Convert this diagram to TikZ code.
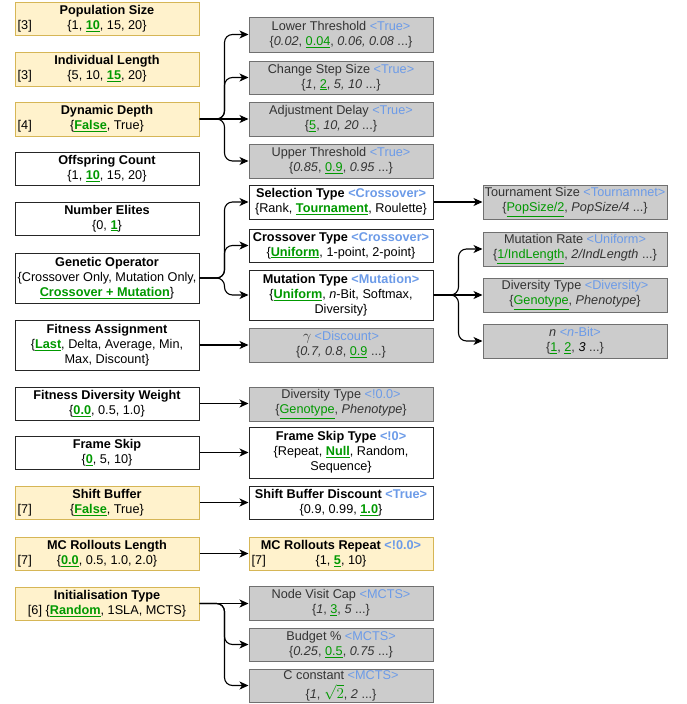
\documentclass[tikz,border=0pt]{standalone}
\usepackage{graphicx}
\usepackage{fontspec}
\setmainfont{Liberation Sans}
\usetikzlibrary{arrows.meta}
\definecolor{yfill}{HTML}{FFF2CC}
\definecolor{ydraw}{HTML}{D6B656}
\definecolor{gfill}{HTML}{CCCCCC}
\definecolor{gdraw}{HTML}{707070}
\definecolor{gtext}{HTML}{333333}
\definecolor{tagblue}{HTML}{6C9BE8}
\definecolor{grn}{HTML}{009900}
\newcommand\gb[1]{\textcolor{grn}{\underline{\textbf{#1}}}}
\newcommand\gu[1]{\textcolor{grn}{\underline{#1}}}
\newcommand\tg[1]{\textcolor{tagblue}{#1}}
\newcommand\bx[7]{\node[#6, minimum width={(#4-#2)*1pt}, minimum height={(#5-#3)*1pt}] (#1) at ({(#2+#4)/2},{(#3+#5)/2}) {#7};}
\newcommand\tagat[2]{\node[tagtxt] (#1tag) at ([xshift=3pt,yshift=-7.5pt]#1.west) {#2};}
\tikzset{
  base/.style={draw, line width=1pt, inner sep=0pt, align=center, font=\fontsize{12.7}{15}\selectfont},
  ybox/.style={base, fill=yfill, draw=ydraw},
  wbox/.style={base, fill=white, draw=black!85},
  gbox/.style={base, fill=gfill, draw=gdraw, text=gtext},
  tagtxt/.style={anchor=west, inner sep=0pt, font=\fontsize{12.7}{15}\selectfont},
  conn/.style={line width=1.1pt, -{Stealth[length=9pt,width=8pt,inset=2.5pt]}},
  bus/.style={conn, rounded corners=8pt}
}
\begin{document}
\begin{tikzpicture}[x=1pt,y=-1pt]
\useasboundingbox (0,0) rectangle (686,704);
% left column
\bx{pop}{15}{2}{199}{35}{ybox}{\textbf{Population Size}\\\{1, \gb{10}, 15, 20\}}
\tagat{pop}{[3]}
\bx{ind}{15}{52}{199}{86}{ybox}{\textbf{Individual Length}\\\{5, 10, \gb{15}, 20\}}
\tagat{ind}{[3]}
\bx{dd}{15}{102}{199}{136}{ybox}{\textbf{Dynamic Depth}\\\{\gb{False}, True\}}
\tagat{dd}{[4]}
\bx{off}{15}{152}{199}{185}{wbox}{\textbf{Offspring Count}\\\{1, \gb{10}, 15, 20\}}
\bx{elite}{15}{202}{199}{235}{wbox}{\textbf{Number Elites}\\\{0, \gb{1}\}}
\bx{gen}{15}{253}{199}{303}{wbox}{\textbf{Genetic Operator}\\\{Crossover Only, Mutation Only,\\\gb{Crossover + Mutation}\}}
\bx{fit}{15}{320}{199}{370}{wbox}{\textbf{Fitness Assignment}\\\{\gb{Last}, Delta, Average, Min,\\Max, Discount\}}
\bx{fdw}{15}{387}{199}{420}{wbox}{\textbf{Fitness Diversity Weight}\\\{\gb{0.0}, 0.5, 1.0\}}
\bx{fs}{15}{436}{199}{469}{wbox}{\textbf{Frame Skip}\\\{\gb{0}, 5, 10\}}
\bx{sb}{15}{486}{199}{519}{ybox}{\textbf{Shift Buffer}\\\{\gb{False}, True\}}
\tagat{sb}{[7]}
\bx{mcl}{15}{537}{199}{570}{ybox}{\textbf{MC Rollouts Length}\\\{\gb{0.0}, 0.5, 1.0, 2.0\}}
\tagat{mcl}{[7]}
\bx{init}{15}{587}{199}{620}{ybox}{\textbf{Initialisation Type}\\{[6]} \{\gb{Random}, 1SLA, MCTS\}}
% middle column
\bx{lt}{249}{17}{433}{52}{gbox}{Lower Threshold \tg{<True>}\\\{\textit{0.02}, \gu{0.04}, \textit{0.06, 0.08} ...\}}
\bx{css}{249}{61}{433}{94}{gbox}{Change Step Size \tg{<True>}\\\{\textit{1}, \gu{2}, \textit{5, 10} ...\}}
\bx{ad}{249}{102}{433}{136}{gbox}{Adjustment Delay \tg{<True>}\\\{\gu{5}, \textit{10, 20} ...\}}
\bx{ut}{249}{144}{433}{178}{gbox}{Upper Threshold \tg{<True>}\\\{\textit{0.85}, \gu{0.9}, \textit{0.95} ...\}}
\bx{sel}{249}{185}{433}{219}{wbox}{\textbf{Selection Type \tg{<Crossover>}}\\\{Rank, \gb{Tournament}, Roulette\}}
\bx{cx}{249}{229}{433}{262}{wbox}{\textbf{Crossover Type \tg{<Crossover>}}\\\{\gb{Uniform}, 1-point, 2-point\}}
\bx{mut}{249}{270}{433}{320}{wbox}{\textbf{Mutation Type \tg{<Mutation>}}\\\{\gb{Uniform}, \textit{n}-Bit, Softmax,\\Diversity\}}
\bx{gam}{249}{328}{433}{362}{gbox}{\scalebox{1.2}{$\gamma$} \tg{<Discount>}\\\{\textit{0.7, 0.8}, \gu{0.9} ...\}}
\bx{dt}{249}{387}{433}{421}{gbox}{Diversity Type \tg{<!0.0>}\\\{\gu{Genotype}, \textit{Phenotype}\}}
\bx{fst}{249}{427}{433}{478}{wbox}{\textbf{Frame Skip Type \tg{<!0>}}\\\{Repeat, \gb{Null}, Random,\\Sequence\}}
\bx{sbd}{249}{486}{433}{519}{wbox}{\textbf{Shift Buffer Discount \tg{<True>}}\\\{0.9, 0.99, \gb{1.0}\}}
\bx{mcr}{249}{537}{433}{570}{ybox}{\textbf{MC Rollouts Repeat \tg{<!0.0>}}\\\{1, \gb{5}, 10\}}
\tagat{mcr}{[7]}
\bx{nvc}{249}{586}{433}{620}{gbox}{Node Visit Cap \tg{<MCTS>}\\\{\textit{1}, \gu{3}, \textit{5} ...\}}
\bx{bud}{249}{628}{433}{661}{gbox}{Budget \% \tg{<MCTS>}\\\{\textit{0.25}, \gu{0.5}, \textit{0.75} ...\}}
\bx{cc}{249}{669}{433}{702}{gbox}{C constant \tg{<MCTS>}\\[4pt]\{\textit{1}, \textcolor{grn}{\scalebox{1.25}{$\sqrt{2}$}}, \textit{2} ...\}}
% right column
\bx{ts}{483}{185}{667}{219}{gbox}{Tournament Size \tg{<Tournamnet>}\\\{\gu{PopSize/2}, \textit{PopSize/4} ...\}}
\bx{mr}{483}{232}{667}{266}{gbox}{Mutation Rate \tg{<Uniform>}\\\{\gu{1/IndLength}, \textit{2/IndLength} ...\}}
\bx{dtv}{483}{278}{667}{312}{gbox}{Diversity Type \tg{<Diversity>}\\\{\gu{Genotype}, \textit{Phenotype}\}}
\bx{nb}{483}{324}{667}{358}{gbox}{\textit{n} \tg{<\textit{n}-Bit>}\\\{\gu{1}, \gu{2}, \textcolor{black}{\textit{3}} ...\}}
% connectors
\draw[bus] (dd.east) -- ++(25,0) |- (lt.west);
\draw[bus] (dd.east) -- ++(25,0) |- (css.west);
\draw[conn] (dd.east) -- (ad.west);
\draw[bus] (dd.east) -- ++(25,0) |- (ut.west);
\draw[bus] (gen.east) -- ++(25,0) |- (sel.west);
\draw[bus] (gen.east) -- ++(25,0) |- (cx.west);
\draw[bus] (gen.east) -- ++(25,0) |- (mut.west);
\draw[bus] (mut.east) -- ++(25,0) |- (mr.west);
\draw[conn] (mut.east) -- (dtv.west);
\draw[bus] (mut.east) -- ++(25,0) |- (nb.west);
\draw[conn] (sel.east) -- (ts.west);
\draw[conn] (fit.east) -- (gam.west);
\draw[conn] (fdw.east) -- (fdw.east -| dt.west);
\draw[conn] (fs.east) -- (fst.west);
\draw[conn] (sb.east) -- (sbd.west);
\draw[conn] (mcl.east) -- (mcr.west);
\draw[conn] (init.east) -- (init.east -| nvc.west);
\draw[bus] (init.east) -- ++(25,0) |- (bud.west);
\draw[bus] (init.east) -- ++(25,0) |- (cc.west);
\end{tikzpicture}
\end{document}
